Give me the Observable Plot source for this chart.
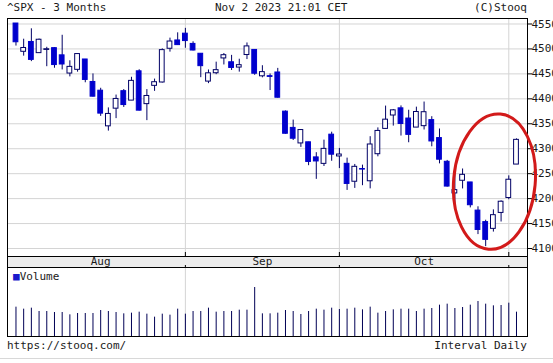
<!DOCTYPE html>
<html><head><meta charset="utf-8">
<script src="https://cdn.jsdelivr.net/npm/d3@7"></script>
<script src="https://cdn.jsdelivr.net/npm/@observablehq/plot@0.6"></script>
<style>
html,body{margin:0;padding:0;background:#fff;}
#wrap{position:relative;width:553px;height:363px;overflow:hidden;font-family:"DejaVu Sans Mono",monospace;font-size:11px;color:#1a1a1a;}
.t{position:absolute;white-space:pre;line-height:13px;}
.p{position:absolute;left:0;}
</style></head><body><div id="wrap"></div>
<script>
const dates = ["2023-08-02","2023-08-03","2023-08-04","2023-08-07","2023-08-08","2023-08-09","2023-08-10","2023-08-11","2023-08-14","2023-08-15","2023-08-16","2023-08-17","2023-08-18","2023-08-21","2023-08-22","2023-08-23","2023-08-24","2023-08-25","2023-08-28","2023-08-29","2023-08-30","2023-08-31",
"2023-09-01","2023-09-05","2023-09-06","2023-09-07","2023-09-08","2023-09-11","2023-09-12","2023-09-13","2023-09-14","2023-09-15","2023-09-18","2023-09-19","2023-09-20","2023-09-21","2023-09-22","2023-09-25","2023-09-26","2023-09-27","2023-09-28","2023-09-29",
"2023-10-02","2023-10-03","2023-10-04","2023-10-05","2023-10-06","2023-10-09","2023-10-10","2023-10-11","2023-10-12","2023-10-13","2023-10-16","2023-10-17","2023-10-18","2023-10-19","2023-10-20","2023-10-23","2023-10-24","2023-10-25","2023-10-26","2023-10-27","2023-10-30","2023-10-31",
"2023-11-01","2023-11-02"];
const opens = [4550.93,4494.27,4513.96,4491.58,4498.03,4501.57,4487.16,4450.69,4458.13,4478.87,4433.79,4416.32,4344.88,4380.28,4415.33,4396.44,4455.16,4389.38,4426.03,4432.75,4500.34,4517.01,
4530.60,4510.06,4490.35,4434.55,4451.30,4480.98,4473.27,4462.65,4487.78,4497.98,4445.13,4445.41,4452.81,4374.36,4341.74,4310.62,4312.88,4282.63,4269.65,4328.18,
4284.52,4269.75,4233.83,4259.31,4234.79,4289.02,4339.75,4366.59,4380.94,4360.49,4342.37,4345.23,4357.35,4321.36,4273.85,4210.40,4235.79,4232.42,4175.99,4152.93,4139.39,4171.33,
4201.27,4268.26];
const highs = [4550.93,4519.49,4540.34,4519.84,4503.31,4502.44,4527.37,4476.23,4490.33,4478.87,4449.95,4421.17,4381.82,4407.55,4418.59,4443.18,4458.30,4418.46,4439.56,4500.14,4521.65,4532.26,
4541.25,4514.29,4490.35,4457.81,4473.53,4490.77,4487.11,4479.39,4511.99,4497.98,4466.36,4449.85,4461.03,4375.70,4357.40,4338.51,4313.01,4292.07,4317.27,4333.15,
4300.58,4281.15,4268.50,4267.13,4324.10,4341.73,4385.46,4378.64,4385.85,4377.10,4383.33,4393.57,4364.20,4339.54,4276.56,4255.84,4259.38,4232.42,4183.60,4156.70,4177.47,4195.55,
4245.64,4319.72];
const lows = [4505.75,4485.54,4474.55,4491.15,4464.39,4461.33,4457.92,4443.98,4453.44,4432.19,4403.55,4364.83,4335.31,4360.30,4382.77,4396.44,4375.55,4356.29,4414.98,4431.68,4493.59,4507.39,
4501.35,4496.01,4442.38,4430.46,4448.38,4467.89,4456.83,4453.52,4478.69,4447.21,4442.11,4416.61,4401.38,4329.17,4316.49,4302.70,4265.98,4238.63,4264.38,4274.86,
4260.21,4216.45,4220.48,4225.91,4219.55,4283.79,4339.64,4345.34,4325.43,4311.97,4342.37,4337.54,4303.84,4269.69,4223.03,4189.22,4219.43,4181.42,4127.90,4103.78,4132.94,4153.12,
4197.74,4268.26];
const closes = [4513.39,4501.89,4478.03,4518.44,4499.38,4467.71,4468.83,4464.05,4489.72,4437.86,4404.33,4370.36,4369.71,4399.77,4387.55,4436.01,4376.31,4405.71,4433.31,4497.63,4514.87,4507.66,
4515.77,4496.83,4465.48,4451.14,4457.49,4487.46,4461.90,4467.44,4505.10,4450.32,4453.53,4443.95,4402.20,4330.00,4320.06,4337.44,4273.53,4274.51,4299.70,4288.05,
4288.39,4229.45,4263.75,4258.19,4308.50,4335.66,4358.24,4376.95,4349.61,4327.78,4373.63,4373.20,4314.60,4278.00,4224.16,4217.04,4247.68,4186.77,4137.23,4117.37,4166.82,4193.80,
4237.86,4317.78];
const volumes = [2200,2050,2125,1875,1875,1800,1800,1625,1725,1725,
1725,1950,1875,1800,1700,1750,1825,1675,1450,1675,
1600,2050,1675,1875,1875,2125,1825,1875,1875,1975,
1975,3675,1700,1700,1750,1950,1875,1650,1875,2050,
1975,2125,2025,2050,2125,2000,2200,1750,1875,2000,
2050,2050,1875,2050,2100,2350,2425,2100,2175,2350,
2625,2425,2300,2325,2500,1825];
const yTicks = [4100,4150,4200,4250,4300,4350,4400,4450,4500,4550];
const monthNames = ["Aug","Sep","Oct"];
const titleLeft = "^SPX - 3 Months";
const titleMid = "Nov 2 2023 21:01 CET";
const titleRight = "(C)Stooq";
const footLeft = "https://stooq.com/";
const footRight = "Interval Daily";
// annotation: red ellipse around the late-October dip (data units: trading-day index, price)
const annotation = {i: 62.2, price: 4233, di: 5.3, dp: 136};

const rows = dates.map((d, i) => ({i, date: d, open: opens[i], high: highs[i], low: lows[i], close: closes[i], volume: volumes[i]}));
// first trading day index of each new month
const monthStarts = rows.filter((r, i) => i > 0 && r.date.slice(5,7) !== rows[i-1].date.slice(5,7)).map(r => r.i);
const bounds = [0, ...monthStarts];
const labelPos = monthNames.map((m, k) => (bounds[k] + bounds[k+1]) / 2);

const FONT = '"DejaVu Sans Mono", monospace';
const GRID = "#d4d4d4";
const BLUE = "#0000cd";
const NAVY = "#000066";
const xDomain = [-1.1, 66.43];

const wrap = document.getElementById("wrap");
function addText(txt, css) {
  const d = document.createElement("div");
  d.className = "t"; d.textContent = txt;
  Object.assign(d.style, css);
  wrap.appendChild(d);
  return d;
}

const main = Plot.plot({
  width: 553, height: 268,
  marginTop: 18, marginBottom: 12, marginLeft: 7, marginRight: 26,
  x: {type: "linear", domain: xDomain, axis: null, label: null},
  y: {domain: [4084, 4561], axis: null, label: null},
  style: {fontFamily: FONT, fontSize: "11px", background: "transparent", color: "#1a1a1a"},
  marks: [
    Plot.ruleY(yTicks, {stroke: GRID}),
    Plot.ruleX(monthStarts, {stroke: GRID}),
    Plot.ruleX(rows, {x: "i", y1: "low", y2: "high", stroke: NAVY, strokeWidth: 1}),
    Plot.rect(rows, {
      x1: d => d.i - 0.31, x2: d => d.i + 0.31, y1: "open", y2: "close",
      fill: d => d.close < d.open ? BLUE : "#ffffff",
      stroke: d => d.close < d.open ? BLUE : NAVY, strokeWidth: 1
    }),
    Plot.axisY(yTicks, {anchor: "right", label: null, tickSize: 4, tickPadding: 0, tickFormat: d => String(d), fill: "#1a1a1a", stroke: "#000"}),
    Plot.axisX(labelPos, {anchor: "bottom", label: null, tickSize: 0, tickPadding: 1, tickFormat: (d, k) => monthNames[k], fill: "#1a1a1a"}),
    Plot.axisX(monthStarts, {anchor: "bottom", label: null, tickSize: -4, tickFormat: () => "", stroke: "#000"}),
    Plot.frame({stroke: "#000"})
  ]
});
main.classList.add("p");
main.style.top = "0px";
{
  const xs = main.scale("x"), ys = main.scale("y");
  const [x0, x1] = xs.range, yb = ys.range[0];
  const svg = d3.select(main);
  svg.insert("rect", ":first-child")
    .attr("x", x0 + 0.5).attr("y", yb + 0.5).attr("width", x1 - x0).attr("height", 11)
    .attr("fill", "#ececec").attr("stroke", "#000");
  const cx = xs.apply(annotation.i), cy = ys.apply(annotation.price);
  const rx = Math.abs(xs.apply(annotation.i + annotation.di) - cx);
  const ry = Math.abs(ys.apply(annotation.price - annotation.dp) - cy);
  svg.append("ellipse").attr("cx", cx).attr("cy", cy).attr("rx", rx).attr("ry", ry)
    .attr("fill", "none").attr("stroke", "#d21a1a").attr("stroke-width", 3)
    .attr("transform", `rotate(5 ${cx} ${cy})`);
}
wrap.appendChild(main);

const vol = Plot.plot({
  width: 553, height: 73,
  marginTop: 3, marginBottom: 1, marginLeft: 7, marginRight: 26,
  x: {type: "linear", domain: xDomain, axis: null, label: null},
  y: {domain: [0, 5175], axis: null, label: null},
  style: {fontFamily: FONT, fontSize: "11px", background: "transparent"},
  marks: [
    Plot.ruleX(monthStarts, {stroke: GRID}),
    Plot.ruleX(rows, {x: "i", y1: 0, y2: "volume", stroke: "#000055", strokeWidth: 1}),
    Plot.axisX(monthStarts, {anchor: "top", label: null, tickSize: 3, tickFormat: () => "", stroke: "#000"}),
    Plot.frame({stroke: "#000"})
  ]
});
vol.classList.add("p");
vol.style.top = "264px";
wrap.appendChild(vol);

// legend for volume panel
const leg = addText("", {left: "13px", top: "270px"});
leg.innerHTML = '<span style="color:#1a1acc">\u25A0</span>Volume';

addText(titleLeft, {left: "7px", top: "1px"});
addText(titleMid, {left: "215px", top: "1px"});
addText(titleRight, {right: "26px", top: "1px"});
addText(footLeft, {left: "7px", top: "339px"});
addText(footRight, {right: "26px", top: "339px"});
const hr = document.createElement("div");
Object.assign(hr.style, {position: "absolute", left: "0px", top: "358px", width: "553px", height: "1px", background: "#d8d8d8"});
wrap.appendChild(hr);
</script></body></html>
